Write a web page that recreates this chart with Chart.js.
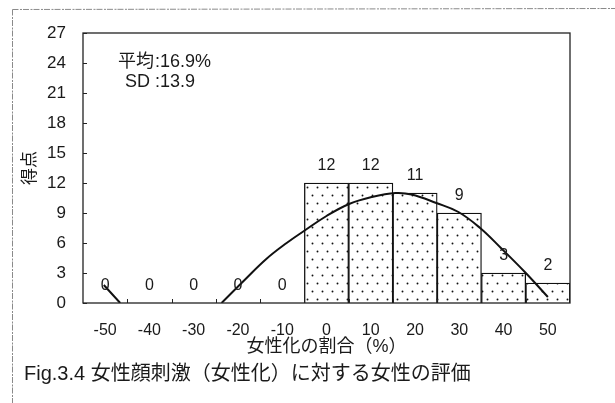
<!DOCTYPE html>
<html>
<head>
<meta charset="utf-8">
<script src="https://cdn.jsdelivr.net/npm/chart.js@4/dist/chart.umd.min.js"></script>
<style>
  html, body { margin: 0; padding: 0; background: #fff; }
  canvas { display: block; }
</style>
</head>
<body>
<canvas id="c" width="615" height="403"></canvas>
<script>
// Histogram bins (percentage of feminisation) and the number of ratings in each bin
const binLabels = ['-50', '-40', '-30', '-20', '-10', '0', '10', '20', '30', '40', '50'];
const counts = [0, 0, 0, 0, 0, 12, 12, 11, 9, 3, 2];

// Fitted curve drawn over the histogram (x in %, y in score)
const curveX = [-50.3, -46.6, -40, -23.7, -18.5, -13.6, -9, -5.1, 0, 5.1, 10.2, 15.6, 19.2, 24.8, 29.8, 34.7, 39.4, 44.8, 50.0];
const curveY = [1.8, 0, null, 0, 2.3, 4.4, 6.0, 7.2, 8.7, 9.9, 10.6, 11.0, 10.85, 10.0, 9.1, 7.5, 5.5, 3.1, 0.6];

// Summary statistics
const meanValue = 16.9;
const sdValue = 13.9;

// Axis ticks for the score axis
const yMin = 0, yMax = 27, yStep = 3;

const NUM_FONT = "'Liberation Sans', Arial, sans-serif";
const JP_FONT = "'Liberation Sans', 'Noto Sans CJK JP', sans-serif";
const INK = '#1a1a1a';

// Dotted fill used for the histogram bars
function dotPattern() {
  const p = document.createElement('canvas');
  p.width = 10; p.height = 16;
  const g = p.getContext('2d');
  g.fillStyle = '#fff';
  g.fillRect(0, 0, 10, 16);
  g.fillStyle = '#111';
  [[2.5, 3.5], [7.5, 11.5]].forEach(([x, y]) => {
    g.beginPath(); g.arc(x, y, 0.95, 0, Math.PI * 2); g.fill();
  });
  return document.getElementById('c').getContext('2d').createPattern(p, 'repeat');
}

// Page frame, plot frame, inward tick marks, value labels and captions
const decorations = {
  id: 'decorations',
  beforeDraw(chart) {
    const ctx = chart.ctx;
    ctx.save();
    ctx.fillStyle = '#fff';
    ctx.fillRect(0, 0, chart.width, chart.height);
    ctx.strokeStyle = '#8a8a8a';
    ctx.lineWidth = 1;
    ctx.setLineDash([6, 1.5, 2, 1]);
    ctx.beginPath();
    ctx.moveTo(12.5, 9.5); ctx.lineTo(chart.width, 8.5);
    ctx.moveTo(12.5, 9.5); ctx.lineTo(12.5, chart.height);
    ctx.stroke();
    ctx.restore();
  },
  afterDatasetsDraw(chart) {
    const ctx = chart.ctx;
    const a = chart.chartArea;
    const ys = chart.scales.y;
    const xs = chart.scales.x;
    ctx.save();
    // plot frame
    ctx.strokeStyle = '#222';
    ctx.lineWidth = 1.3;
    ctx.strokeRect(a.left, a.top, a.right - a.left, a.bottom - a.top);
    // inward ticks on the score axis
    ctx.lineWidth = 1;
    ctx.beginPath();
    ys.ticks.forEach(t => {
      const py = Math.round(ys.getPixelForValue(t.value)) + 0.5;
      ctx.moveTo(a.left, py); ctx.lineTo(a.left + 4, py);
    });
    // inward ticks on bin boundaries
    for (let i = 0; i < binLabels.length - 1; i++) {
      const px = Math.round((xs.getPixelForTick(i) + xs.getPixelForTick(i + 1)) / 2) + 0.5;
      ctx.moveTo(px, a.bottom); ctx.lineTo(px, a.bottom - 4);
    }
    ctx.stroke();

    // bar value labels
    const meta = chart.getDatasetMeta(2);
    ctx.fillStyle = INK;
    ctx.font = '16px ' + NUM_FONT;
    ctx.textAlign = 'center';
    ctx.textBaseline = 'middle';
    meta.data.forEach((bar, i) => {
      ctx.fillText(String(counts[i]), bar.x, bar.y - 17);
    });

    // mean / SD annotation
    ctx.textAlign = 'left';
    ctx.font = '18px ' + JP_FONT;
    ctx.fillText('平均', a.left + 35, 62);
    ctx.fillText('SD', a.left + 42, 82);
    ctx.fillText(':' + meanValue.toFixed(1) + '%', a.left + 72, 62);
    ctx.fillText(':' + sdValue.toFixed(1), a.left + 72, 82);
    ctx.restore();
  },
  afterDraw(chart) {
    const ctx = chart.ctx;
    ctx.save();
    ctx.fillStyle = INK;
    ctx.font = '20px ' + JP_FONT;
    ctx.textAlign = 'left';
    ctx.textBaseline = 'middle';
    ctx.fillText('Fig.3.4 女性顔刺激（女性化）に対する女性の評価', 24, 374);
    ctx.restore();
  }
};

const curveData = curveX.map((x, i) => ({ x: x, y: curveY[i] }));

new Chart(document.getElementById('c'), {
  type: 'bar',
  data: {
    labels: binLabels,
    datasets: [
      {
        type: 'line',
        xAxisID: 'xc',
        data: curveData,
        borderColor: '#111',
        borderWidth: 2,
        pointRadius: 0,
        fill: false,
        spanGaps: false,
        tension: 0.4,
        order: 0
      },
      {
        type: 'scatter',
        xAxisID: 'xc',
        data: [{ x: meanValue, y: -1.35 }],
        pointStyle: 'triangle',
        pointRadius: 9.5,
        backgroundColor: '#5c5c5c',
        borderColor: '#222',
        borderWidth: 1,
        clip: false,
        order: 0
      },
      {
        type: 'bar',
        xAxisID: 'x',
        data: counts,
        backgroundColor: dotPattern(),
        borderColor: '#111',
        borderWidth: 1.3,
        categoryPercentage: 1,
        barPercentage: 1,
        grouped: false,
        order: 1
      }
    ]
  },
  options: {
    responsive: false,
    animation: false,
    events: [],
    layout: { padding: { top: 33, right: 45, left: 0, bottom: 0 } },
    plugins: {
      legend: { display: false },
      tooltip: { enabled: false },
      title: { display: false }
    },
    scales: {
      x: {
        type: 'category',
        offset: true,
        grid: { display: false, drawTicks: false },
        border: { display: false },
        ticks: { padding: 18, color: INK, font: { size: 16, family: NUM_FONT }, maxRotation: 0 },
        title: {
          display: true,
          text: '女性化の割合（%）',
          color: INK,
          font: { size: 18, family: JP_FONT },
          padding: { top: 0, bottom: 45 }
        },
        afterFit(s) { s.height = 100; }
      },
      xc: {
        type: 'linear',
        min: -55,
        max: 55,
        offset: false,
        display: false
      },
      y: {
        min: yMin,
        max: yMax,
        grid: { display: false, drawTicks: false },
        border: { display: false },
        ticks: { stepSize: yStep, padding: 17, color: INK, font: { size: 17, family: NUM_FONT } },
        title: {
          display: true,
          text: '得点',
          color: INK,
          font: { size: 17, family: JP_FONT },
          padding: { top: 20, bottom: 0 }
        },
        afterFit(s) { s.width = 83; }
      }
    }
  },
  plugins: [decorations]
});
</script>
</body>
</html>
